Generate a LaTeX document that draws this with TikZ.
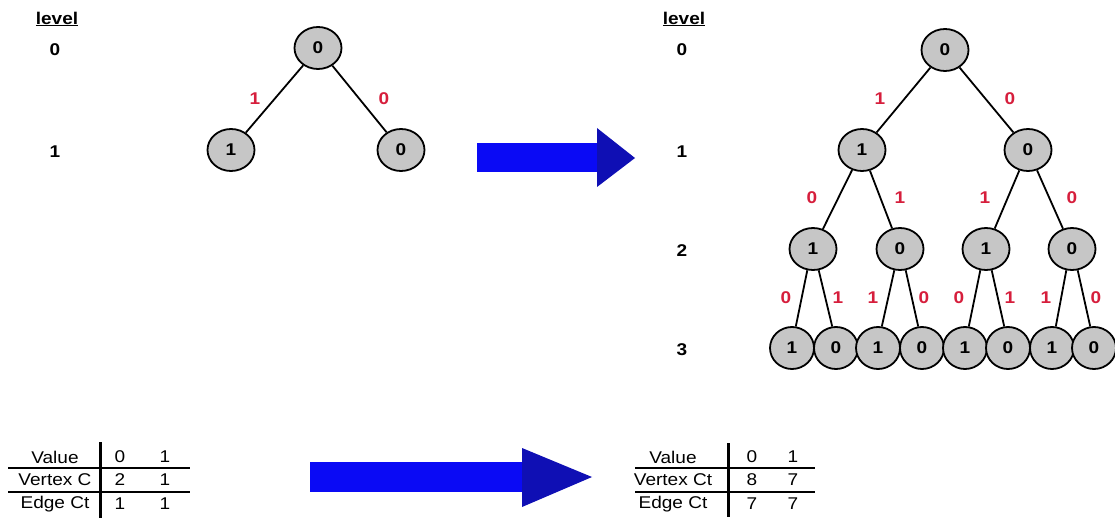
\documentclass[tikz,border=0pt]{standalone}
\usepackage{fontspec}
\newfontfamily\figfont{Liberation Sans}[FakeStretch=1.12]
\usetikzlibrary{shapes.geometric}

\definecolor{bitred}{RGB}{214,30,60}
\definecolor{arrowblue}{RGB}{10,10,245}
\definecolor{headblue}{RGB}{15,15,180}

\begin{document}
\begin{tikzpicture}[
  x=1pt, y=-1pt,
  font=\figfont\fontsize{17}{20}\selectfont,
  vtx/.style={ellipse, draw, line width=1.8pt, fill=gray!45, minimum width=47pt, minimum height=42pt, inner sep=0pt, font=\figfont\fontsize{17}{20}\selectfont\bfseries},
  leaf/.style={vtx, minimum width=44pt},
  bit/.style={text=bitred, font=\figfont\fontsize{17}{20}\selectfont\bfseries},
  lvl/.style={font=\figfont\fontsize{17}{20}\selectfont\bfseries},
  edge/.style={line width=1.8pt},
  thinrule/.style={line width=1.4pt},
  thickrule/.style={line width=2.4pt},
  colrule/.style={line width=3pt}
]
\useasboundingbox (0,0) rectangle (1115,521);

% level columns
\node[lvl] (lvlA) at (57,19) {\underline{level}};
\node[lvl] (lA0) at (55,50) {0};
\node[lvl] (lA1) at (55,152) {1};

\node[lvl] (lvlB) at (684,19) {\underline{level}};
\node[lvl] (lB0) at (682,50) {0};
\node[lvl] (lB1) at (682,152) {1};
\node[lvl] (lB2) at (682,251) {2};
\node[lvl] (lB3) at (682,350) {3};

% small tree
\node[vtx] (s) at (318,48) {0};
\node[vtx] (s1) at (231,150) {1};
\node[vtx] (s0) at (401,150) {0};
\draw[edge] (s) -- (s1);
\draw[edge] (s) -- (s0);
\node[bit] (bs1) at (255,99) {1};
\node[bit] (bs0) at (384,99) {0};

% big tree
\node[vtx] (r) at (945,50) {0};
\node[vtx] (r1) at (862,150) {1};
\node[vtx] (r0) at (1028,150) {0};
\node[vtx] (r11) at (813,249) {1};
\node[vtx] (r10) at (900,249) {0};
\node[vtx] (r01) at (986,249) {1};
\node[vtx] (r00) at (1072,249) {0};
\node[leaf] (r111) at (792,348) {1};
\node[leaf] (r110) at (836,348) {0};
\node[leaf] (r101) at (878,348) {1};
\node[leaf] (r100) at (922,348) {0};
\node[leaf] (r011) at (965,348) {1};
\node[leaf] (r010) at (1008,348) {0};
\node[leaf] (r001) at (1052,348) {1};
\node[leaf] (r000) at (1094,348) {0};

\draw[edge] (r) -- (r1);
\draw[edge] (r) -- (r0);
\draw[edge] (r1) -- (r11);
\draw[edge] (r1) -- (r10);
\draw[edge] (r0) -- (r01);
\draw[edge] (r0) -- (r00);
\foreach \p/\a/\b in {r11/r111/r110, r10/r101/r100, r01/r011/r010, r00/r001/r000}{
  \draw[edge] (\p.-105) -- (\a.80);
  \draw[edge] (\p.-75) -- (\b.100);
}

\node[bit] (b1) at (880,99) {1};
\node[bit] (b0) at (1010,99) {0};
\node[bit] (b10) at (812,198) {0};
\node[bit] (b11) at (900,198) {1};
\node[bit] (b01) at (985,198) {1};
\node[bit] (b00) at (1072,198) {0};
\node[bit] (c1) at (786,298) {0};
\node[bit] (c2) at (838,298) {1};
\node[bit] (c3) at (873,298) {1};
\node[bit] (c4) at (924,298) {0};
\node[bit] (c5) at (959,298) {0};
\node[bit] (c6) at (1010,298) {1};
\node[bit] (c7) at (1046,298) {1};
\node[bit] (c8) at (1096,298) {0};

% block arrows
\fill[arrowblue] (477,143) rectangle (598,172);
\fill[headblue] (597,128) -- (635,158) -- (597,187) -- cycle;
\fill[arrowblue] (310,462) rectangle (523,492);
\fill[headblue] (522,448) -- (592,477) -- (522,507) -- cycle;

% left table
\node (tAv) at (55,457) {Value};
\node (tAv0) at (120,457) {0};
\node (tAv1) at (165,457) {1};
\node (tAn) at (55,480) {Vertex C};
\node (tAn0) at (120,480) {2};
\node (tAn1) at (165,480) {1};
\node (tAe) at (55,504) {Edge Ct};
\node (tAe0) at (120,504) {1};
\node (tAe1) at (165,504) {1};
\draw[thinrule] (8,468) -- (190,468);
\draw[thickrule] (8,492) -- (190,492);
\draw[colrule] (100,442) -- (100,518);

% right table
\node (tBv) at (673,457) {Value};
\node (tBv0) at (752,457) {0};
\node (tBv1) at (793,457) {1};
\node (tBn) at (673,480) {Vertex Ct};
\node (tBn0) at (752,480) {8};
\node (tBn1) at (793,480) {7};
\node (tBe) at (673,504) {Edge Ct};
\node (tBe0) at (752,504) {7};
\node (tBe1) at (793,504) {7};
\draw[thinrule] (635,468) -- (815,468);
\draw[thickrule] (635,492) -- (815,492);
\draw[colrule] (728,443) -- (728,517);

\end{tikzpicture}
\end{document}
